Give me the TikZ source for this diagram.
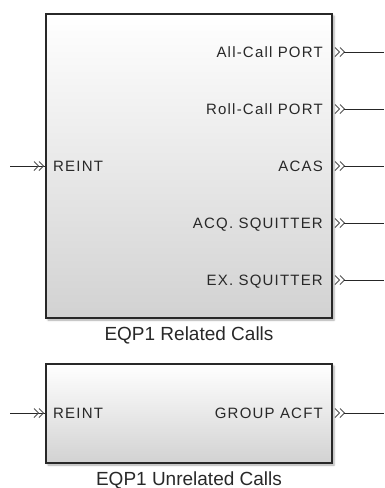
\documentclass[tikz,border=0pt]{standalone}
\usepackage{fontspec}
\setmainfont{Liberation Sans}
\newfontfamily\portfont[LetterSpace=8]{Liberation Sans}
\usetikzlibrary{positioning, shadows.blur}
\definecolor{edgegray}{RGB}{40,40,40}
\definecolor{chevgray}{RGB}{80,80,80}
\definecolor{boxbottom}{RGB}{210,210,210}

\begin{document}
\begin{tikzpicture}[
    x=1pt, y=-1pt,
    block/.style={rectangle, draw=edgegray, line width=2pt, top color=white, middle color=white!97!black, bottom color=boxbottom, minimum width=286pt, inner sep=0pt, blur shadow={shadow xshift=2pt, shadow yshift=-2pt, shadow blur radius=2pt, shadow opacity=35}},
    caption/.style={font=\fontsize{19}{22}\selectfont, text=edgegray},
    portL/.style={anchor=base west, inner sep=0pt, font=\portfont\fontsize{15}{17}\selectfont, text=edgegray},
    portR/.style={anchor=base east, inner sep=0pt, font=\portfont\fontsize{15}{17}\selectfont, text=edgegray},
    wire/.style={draw=black!85, line width=1pt},
    chev/.pic={\draw[chevgray, line width=1pt] (0,-4.5) -- (4.5,0) -- (0,4.5) (5,-4.5) -- (9.5,0) -- (5,4.5);}
]
\useasboundingbox (0,0) rectangle (384,488);

% blocks
\node[block, minimum height=304pt] (rel) at (189,166) {};
\node[caption, below=4pt of rel] (relcap) {EQP1 Related Calls};
\node[block, minimum height=99pt] (unrel) at (189,413.5) {};
\node[caption, below=4pt of unrel] (unrelcap) {EQP1 Unrelated Calls};

% port labels
\node[portL] (reint1) at (53,171) {REINT};
\node[portR] (allcall) at (323,57) {All-Call PORT};
\node[portR] (rollcall) at (323,114) {Roll-Call PORT};
\node[portR] (acas) at (323,171) {ACAS};
\node[portR] (acq) at (323,228) {ACQ. SQUITTER};
\node[portR] (exsq) at (323,285) {EX. SQUITTER};
\node[portL] (reint2) at (53,418) {REINT};
\node[portR] (group) at (323,418) {GROUP ACFT};

% free ends
\coordinate (in1) at (10,166);
\coordinate (in2) at (10,413);
\coordinate (out1) at (384,52);
\coordinate (out2) at (384,109);
\coordinate (out3) at (384,166);
\coordinate (out4) at (384,223);
\coordinate (out5) at (384,280);
\coordinate (out6) at (384,413);

% inputs
\draw[wire] (in1) -- (rel.west |- in1);
\pic[xshift=-11pt] at (rel.west |- in1) {chev};
\draw[wire] (in2) -- (unrel.west |- in2);
\pic[xshift=-11pt] at (unrel.west |- in2) {chev};

% outputs
\pic[xshift=2pt] at (rel.east |- out1) {chev};
\draw[wire] (rel.east |- out1) ++(11,0) -- (out1);
\pic[xshift=2pt] at (rel.east |- out2) {chev};
\draw[wire] (rel.east |- out2) ++(11,0) -- (out2);
\pic[xshift=2pt] at (rel.east |- out3) {chev};
\draw[wire] (rel.east |- out3) ++(11,0) -- (out3);
\pic[xshift=2pt] at (rel.east |- out4) {chev};
\draw[wire] (rel.east |- out4) ++(11,0) -- (out4);
\pic[xshift=2pt] at (rel.east |- out5) {chev};
\draw[wire] (rel.east |- out5) ++(11,0) -- (out5);
\pic[xshift=2pt] at (unrel.east |- out6) {chev};
\draw[wire] (unrel.east |- out6) ++(11,0) -- (out6);

\end{tikzpicture}
\end{document}
